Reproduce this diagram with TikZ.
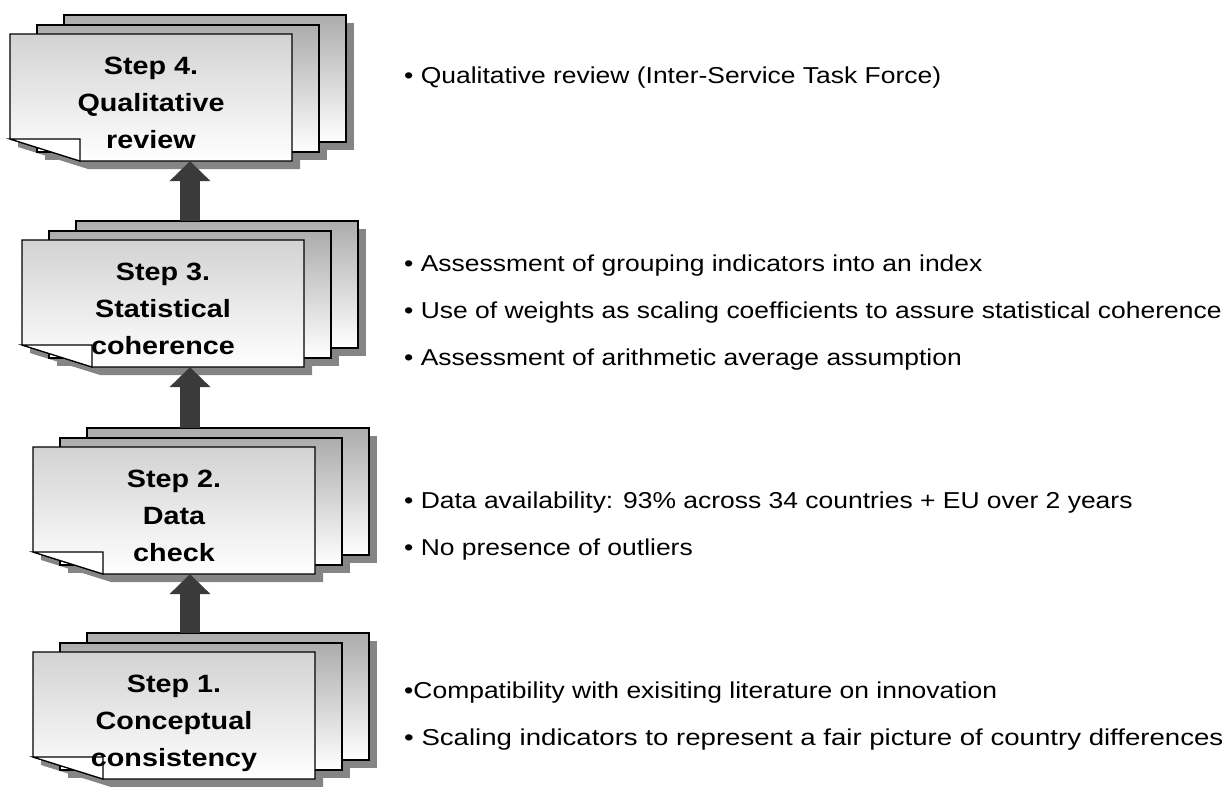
\documentclass[tikz,border=0pt]{standalone}
\usepackage{fontspec}
\setmainfont{Liberation Sans}
\usetikzlibrary{arrows.meta}
\definecolor{arrowc}{HTML}{3A3A3A}
\definecolor{shadowc}{HTML}{858585}
\tikzset{
  boxline/.style={draw=black, line width=1.2pt},
  frontshade/.style={top color=gray!35, middle color=gray!80, bottom color=white},
  backshade/.style={top color=gray!65, bottom color=white},
  foldfill/.style={fill=white, draw=black, line width=1.2pt},
  shadowfill/.style={fill=shadowc},
  stepbody/.style={inner sep=0pt, minimum width=282pt, minimum height=127pt},
  steptext/.style={font=\bfseries\fontsize{25}{37}\selectfont, align=center, inner sep=0pt},
  bullet/.style={font=\fontsize{23}{27}\selectfont, anchor=base west, inner sep=0pt},
  blockarr/.style={arrowc, line width=20pt, -{Triangle[width=40pt,length=20pt]}}
}
\newcommand\stepstack[4]{%
\begin{scope}[shift={(#2,#3)}]
  \fill[shadowfill] (62,-11) rectangle (344,116);
  \fill[shadowfill] (35,-1) rectangle (317,126);
  \fill[shadowfill] (8,8) -- (290,8) -- (290,135) -- (78,135) -- (8,113) -- cycle;
  \shade[backshade] (54,-19) rectangle (336,108);
  \draw[boxline] (54,-19) rectangle (336,108);
  \shade[backshade] (27,-9) rectangle (309,118);
  \draw[boxline] (27,-9) rectangle (309,118);
  \shade[frontshade] (0,0) -- (282,0) -- (282,127) -- (70,127) -- (0,105) -- cycle;
  \draw[boxline] (0,0) -- (282,0) -- (282,127) -- (70,127) -- (0,105) -- cycle;
  \draw[foldfill] (0,105) -- (70,105) -- (70,127) -- cycle;
  \node[stepbody] (#1) at (141,63.5) {};
  \coordinate (#1-top) at (54,-19);
  \node[steptext] (#1-label) at (141,70.5) {\scalebox{1.15}[1]{\begin{tabular}{@{}c@{}}#4\end{tabular}}};
\end{scope}}
\newcommand\bul[2][1.15]{\scalebox{#1}[1]{#2}}
\begin{document}
\begin{tikzpicture}[x=1pt,y=-1pt]
\useasboundingbox (0,0) rectangle (1229,787);
\coordinate (axis) at (190,0);
\stepstack{s4}{10}{34}{Step 4.\\Qualitative\\review}
\stepstack{s3}{22}{240}{Step 3.\\Statistical\\coherence}
\stepstack{s2}{33}{447}{Step 2.\\Data\\check}
\stepstack{s1}{33}{652}{Step 1.\\Conceptual\\consistency}
\draw[blockarr] (s3-top -| axis) -- (s4.south -| axis);
\draw[blockarr] (s2-top -| axis) -- (s3.south -| axis);
\draw[blockarr] (s1-top -| axis) -- (s2.south -| axis);
\node[bullet] (t4) at (404,83) {\bul{• Qualitative review (Inter-Service Task Force)}};
\node[bullet] (t3a) at (404,271) {\bul{• Assessment of grouping indicators into an index}};
\node[bullet] (t3b) at (404,318) {\bul{• Use of weights as scaling coefficients to assure statistical coherence}};
\node[bullet] (t3c) at (404,365) {\bul{• Assessment of arithmetic average assumption}};
\node[bullet] (t2a) at (404,508) {\bul{• Data availability: 93\% across 34 countries + EU over 2 years}};
\node[bullet] (t2b) at (404,555) {\bul{• No presence of outliers}};
\node[bullet] (t1a) at (404,698) {\bul{•Compatibility with exisiting literature on innovation}};
\node[bullet] (t1b) at (404,745) {\bul[1.2]{• Scaling indicators to represent a fair picture of country differences}};
\end{tikzpicture}
\end{document}
